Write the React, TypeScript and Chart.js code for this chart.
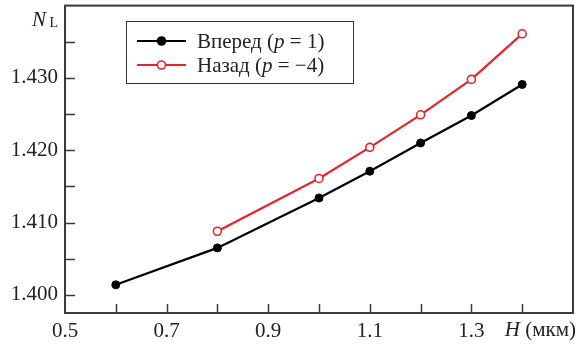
import React, { useEffect, useRef } from "react";
import { Chart, registerables } from "chart.js";

Chart.register(...registerables);

const thicknessX = [0.6, 0.8, 1.0, 1.1, 1.2, 1.3, 1.4];
const forwardN = [1.4014, 1.4065, 1.4134, 1.4171, 1.421, 1.4248, 1.4291];
const backwardX = [0.8, 1.0, 1.1, 1.2, 1.3, 1.4];
const backwardN = [1.4088, 1.4161, 1.4204, 1.4249, 1.4298, 1.4361];

const xTickValues = [0.5, 0.6, 0.7, 0.8, 0.9, 1.0, 1.1, 1.2, 1.3, 1.4, 1.5];
const xTickLabels = ["0.5", "", "0.7", "", "0.9", "", "1.1", "", "1.3", "", ""];
const yTickValues = [1.4, 1.405, 1.41, 1.415, 1.42, 1.425, 1.43, 1.435];
const yTickLabels = ["1.400", "", "1.410", "", "1.420", "", "1.430", ""];

const legendLabels = [
  { pre: "Вперед (", it: "p", post: " = 1)" },
  { pre: "Назад (", it: "p", post: " = −4)" },
];

const FONT = '"Liberation Serif"';
const FS = 21;
const TEXT = "#222";
const AXIS = "#3a3a3a";

const decorPlugin = {
  id: "decor",
  afterDraw(chart: any) {
    const ctx = chart.ctx;
    const { left, right, top, bottom } = chart.chartArea;
    const xs = chart.scales.x;
    const ys = chart.scales.y;
    ctx.save();
    ctx.strokeStyle = AXIS;
    ctx.lineWidth = 1.5;
    xTickValues.forEach((v) => {
      if (v <= 0.5 || v >= 1.5) return;
      const px = Math.round(xs.getPixelForValue(v)) + 0.5;
      ctx.beginPath();
      ctx.moveTo(px, bottom);
      ctx.lineTo(px, bottom - 9);
      ctx.stroke();
    });
    yTickValues.forEach((v) => {
      const py = Math.round(ys.getPixelForValue(v)) + 0.5;
      ctx.beginPath();
      ctx.moveTo(left, py);
      ctx.lineTo(left + 10, py);
      ctx.stroke();
    });
    ctx.lineWidth = 2;
    ctx.strokeRect(left, top, right - left, bottom - top);

    ctx.fillStyle = TEXT;
    ctx.textBaseline = "alphabetic";
    ctx.textAlign = "left";
    ctx.font = `italic ${FS}px ${FONT}`;
    ctx.fillText("N", 32, 26);
    ctx.font = `14px ${FONT}`;
    ctx.fillText("L", 49.5, 27);

    ctx.textAlign = "right";
    ctx.font = `${FS}px ${FONT}`;
    const unit = " (мкм)";
    const uw = ctx.measureText(unit).width;
    ctx.fillText(unit, 576, 336);
    ctx.font = `italic ${FS}px ${FONT}`;
    ctx.fillText("H", 576 - uw, 336);

    const bx = 126.5, by = 21.5, bw = 227, bh = 62;
    ctx.fillStyle = "#fff";
    ctx.fillRect(bx, by, bw, bh);
    ctx.strokeStyle = "#333";
    ctx.lineWidth = 1;
    ctx.strokeRect(bx, by, bw, bh);
    const rows = [41, 65];
    chart.data.datasets.forEach((ds: any, i: number) => {
      const y = rows[i];
      ctx.strokeStyle = ds.borderColor;
      ctx.lineWidth = 2.2;
      ctx.beginPath();
      ctx.moveTo(137, y);
      ctx.lineTo(186, y);
      ctx.stroke();
      ctx.beginPath();
      ctx.arc(161.5, y, 4, 0, Math.PI * 2);
      ctx.fillStyle = ds.pointBackgroundColor;
      ctx.fill();
      ctx.lineWidth = 1.6;
      ctx.strokeStyle = ds.pointBorderColor;
      ctx.stroke();
      const lab = legendLabels[i];
      ctx.fillStyle = TEXT;
      ctx.textAlign = "left";
      ctx.textBaseline = "alphabetic";
      let x = 197;
      const base = y + 7;
      ctx.font = `${FS}px ${FONT}`;
      ctx.fillText(lab.pre, x, base);
      x += ctx.measureText(lab.pre).width;
      ctx.font = `italic ${FS}px ${FONT}`;
      ctx.fillText(lab.it, x, base);
      x += ctx.measureText(lab.it).width;
      ctx.font = `${FS}px ${FONT}`;
      ctx.fillText(lab.post, x, base);
    });
    ctx.restore();
  },
};

export default function App() {
  const ref = useRef<HTMLCanvasElement>(null);
  useEffect(() => {
    const canvas = ref.current as HTMLCanvasElement;
    const chart = new Chart(canvas, {
      type: "line",
      data: {
        datasets: [
          {
            label: "Вперед (p = 1)",
            data: thicknessX.map((x, i) => ({ x, y: forwardN[i] })),
            borderColor: "#000",
            backgroundColor: "#000",
            pointBackgroundColor: "#000",
            pointBorderColor: "#000",
            borderWidth: 2.2,
            pointRadius: 4,
            pointBorderWidth: 1,
          },
          {
            label: "Назад (p = −4)",
            data: backwardX.map((x, i) => ({ x, y: backwardN[i] })),
            borderColor: "#e8242a",
            backgroundColor: "#fff",
            pointBackgroundColor: "#fff",
            pointBorderColor: "#e8242a",
            borderWidth: 2.2,
            pointRadius: 4,
            pointBorderWidth: 1.6,
          },
        ],
      },
      options: {
        animation: false,
        responsive: false,
        layout: { padding: { top: 5, right: 10, left: 0, bottom: 0 } },
        plugins: { legend: { display: false }, tooltip: { enabled: false } },
        scales: {
          x: {
            type: "linear",
            min: 0.5,
            max: 1.5,
            afterBuildTicks: (s: any) => {
              s.ticks = xTickValues.map((v) => ({ value: v }));
            },
            afterFit: (s: any) => {
              s.height = 32;
              s.paddingLeft = 0;
              s.paddingRight = 0;
            },
            grid: { display: true, drawOnChartArea: false, drawTicks: false },
            border: { display: false },
            ticks: {
              autoSkip: false,
              maxRotation: 0,
              padding: 6,
              color: TEXT,
              font: { family: FONT, size: FS },
              callback: (v: any, i: number) => xTickLabels[i] ?? "",
            },
          },
          y: {
            type: "linear",
            min: 1.3975,
            max: 1.44,
            afterBuildTicks: (s: any) => {
              s.ticks = yTickValues.map((v) => ({ value: v }));
            },
            afterFit: (s: any) => {
              s.width = 65;
              s.paddingTop = 0;
              s.paddingBottom = 0;
            },
            grid: { display: true, drawOnChartArea: false, drawTicks: false },
            border: { display: false },
            ticks: {
              autoSkip: false,
              padding: 7,
              color: TEXT,
              font: { family: FONT, size: FS },
              callback: (v: any, i: number) => yTickLabels[i] ?? "",
            },
          },
        },
      },
      plugins: [decorPlugin],
    });
    return () => chart.destroy();
  }, []);
  return (
    <canvas
      ref={ref}
      width={583}
      height={345}
      style={{ display: "block", position: "fixed", left: 0, top: 0 }}
    />
  );
}
